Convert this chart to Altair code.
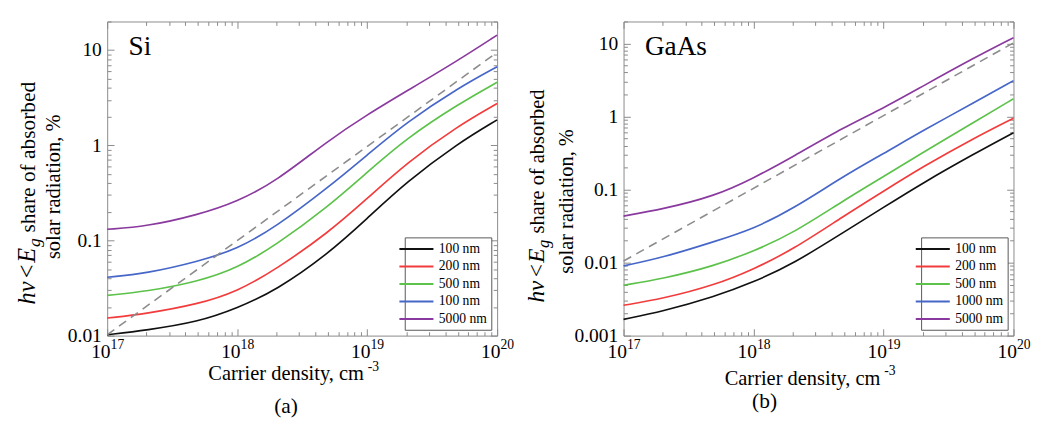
import altair as alt
import pandas as pd

FONT = "Liberation Serif"

# ---------------- data ----------------
carrier_density = [1e17, 2e17, 5e17, 1e18, 2e18, 5e18, 1e19, 2e19, 5e19, 1e20]

si_names = ["100 nm", "200 nm", "500 nm", "100 nm ", "5000 nm"]
si_100 = [0.0102, 0.0114, 0.0139, 0.0194, 0.030, 0.072, 0.17, 0.41, 1.05, 1.85]
si_200 = [0.0153, 0.017, 0.0214, 0.029, 0.050, 0.12, 0.275, 0.65, 1.6, 2.75]
si_500 = [0.0265, 0.029, 0.037, 0.051, 0.090, 0.226, 0.52, 1.18, 2.7, 4.6]
si_1000 = [0.041, 0.045, 0.06, 0.081, 0.14, 0.36, 0.79, 1.74, 4.0, 6.7]
si_5000 = [0.131, 0.14, 0.186, 0.255, 0.42, 1.12, 2.1, 3.7, 7.8, 14.4]
si_dash_x = [1e17, 1e20]
si_dash_y = [0.0102, 9.5]

gaas_names = ["100 nm", "200 nm", "500 nm", "1000 nm", "5000 nm"]
gaas_100 = [0.00167, 0.00215, 0.0034, 0.0054, 0.0095, 0.0264, 0.057, 0.123, 0.31, 0.6]
gaas_200 = [0.0026, 0.0032, 0.0049, 0.0081, 0.015, 0.044, 0.095, 0.205, 0.51, 0.95]
gaas_500 = [0.0049, 0.006, 0.009, 0.0143, 0.025, 0.072, 0.15, 0.32, 0.84, 1.75]
gaas_1000 = [0.009, 0.0117, 0.0194, 0.029, 0.054, 0.155, 0.31, 0.64, 1.56, 3.1]
gaas_5000 = [0.0433, 0.054, 0.081, 0.143, 0.28, 0.72, 1.3, 2.6, 6.4, 12.0]
gaas_dash_x = [1e17, 1e20]
gaas_dash_y = [0.0105, 10.2]

line_colors = ["#111111", "#f23c3c", "#5cc24a", "#4666c8", "#8a3a9e"]

x_major = [1e17, 1e18, 1e19, 1e20]
x_minor = [m * 10.0 ** e for e in (17, 18, 19) for m in range(2, 10)]
si_y_major = [0.01, 0.1, 1, 10]
gaas_y_major = [0.001, 0.01, 0.1, 1, 10]


def minors(decades):
    return [m * 10.0 ** e for e in decades for m in range(2, 10)]


si_y_minor = minors([-2, -1, 0]) + [20]
gaas_y_minor = minors([-3, -2, -1, 0]) + [20]


def long_df(names, series):
    rows = []
    for name, vals in zip(names, series):
        for n, v in zip(carrier_density, vals):
            rows.append({"n": n, "v": v, "series": name})
    return pd.DataFrame(rows)


si_df = long_df(si_names, [si_100, si_200, si_500, si_1000, si_5000])
gaas_df = long_df(gaas_names, [gaas_100, gaas_200, gaas_500, gaas_1000, gaas_5000])
si_dash = pd.DataFrame({"n": si_dash_x, "v": si_dash_y})
gaas_dash = pd.DataFrame({"n": gaas_dash_x, "v": gaas_dash_y})

EXP_EXPR = ("datum.value < 5e17 ? '17' : datum.value < 5e18 ? '18' : "
            "datum.value < 5e19 ? '19' : '20'")

W, H = 401, 323


def tick_axis(orient, values, size):
    return alt.Axis(orient=orient, values=values, labels=False, domain=False,
                    grid=False, title=None, ticks=True,
                    tickSize={"expr": str(-size)}, tickColor="#888888",
                    tickWidth=1)


def panel(df, names, dash_df, y_dom, y_major, y_minor, label, caption,
          cap_xy, title_pieces, xtitle_base):
    xs = alt.Scale(type="log", domain=[1e17, 1e20])
    ys = alt.Scale(type="log", domain=y_dom)

    def enc(xaxis, yaxis):
        return dict(x=alt.X("n:Q", scale=xs, axis=xaxis),
                    y=alt.Y("v:Q", scale=ys, axis=yaxis))

    lab_x = alt.Axis(orient="bottom", values=x_major, labelExpr="'10'",
                     labelAlign="right", tickOffset=3,
                     labelBaseline="alphabetic", labelPadding=23,
                     ticks=False, domain=False, grid=False, title=None,
                     labelFlush=False)
    exp_x = alt.Axis(orient="bottom", values=x_major, labelExpr=EXP_EXPR,
                     labelAlign="left", tickOffset=3,
                     labelBaseline="alphabetic", labelPadding=13,
                     labelFontSize=14, ticks=False, domain=False, grid=False,
                     title=None, labelFlush=False)
    lab_y = alt.Axis(orient="left", values=y_major, format="~g", ticks=False,
                     domain=False, grid=False, title=None, labelPadding=6)

    lines = alt.Chart(df).mark_line(interpolate="basis", strokeWidth=1.7).encode(
        color=alt.Color("series:N", sort=names,
                        scale=alt.Scale(domain=names, range=line_colors),
                        legend=alt.Legend(
                            orient="bottom-right", offset=6, title=None,
                            symbolType="M-2.5,0H2.5", symbolSize=196,
                            symbolStrokeWidth=2, labelFont=FONT,
                            labelFontSize=14, labelColor="black",
                            labelOffset=15, strokeColor="#555555",
                            fillColor="white", padding=4, rowPadding=3)),
        **enc(lab_x, lab_y))

    dash = alt.Chart(dash_df).mark_line(strokeDash=[9, 6], color="#8c8c8c",
                                        strokeWidth=1.6).encode(
        **enc(tick_axis("bottom", x_major, 7), tick_axis("left", y_major, 7)))
    d2 = alt.Chart(dash_df).mark_line(opacity=0).encode(
        **enc(tick_axis("bottom", x_minor, 4), tick_axis("left", y_minor, 4)))
    d3 = alt.Chart(dash_df).mark_line(opacity=0).encode(
        **enc(tick_axis("top", x_major, 7), tick_axis("right", y_major, 7)))
    d4 = alt.Chart(dash_df).mark_line(opacity=0).encode(
        **enc(tick_axis("top", x_minor, 4), tick_axis("right", y_minor, 4)))
    d5 = alt.Chart(dash_df).mark_line(opacity=0).encode(**enc(exp_x, None))

    one = pd.DataFrame({"k": [0]})

    def txt(text, x, y, size, style="normal", align="left",
            baseline="alphabetic", angle=0):
        props = dict(font=FONT, fontSize=size, fontStyle=style, align=align,
                     baseline=baseline, color="black")
        if angle:
            props["angle"] = angle
        return alt.Chart(one).mark_text(**props).encode(
            x=alt.value(x), y=alt.value(y), text=alt.value(text))

    texts = [
        txt(label, 22, 34, 28),
        txt(caption, cap_xy[0], cap_xy[1], 22, align="center",
            baseline="middle"),
        txt("Carrier density, cm", 104, xtitle_base, 21),
        txt("-3", 268, xtitle_base - 10, 14),
    ]
    for t, px, py, size, style, align in title_pieces:
        texts.append(txt(t, px, py, size, style=style, align=align, angle=270))

    return alt.layer(lines, dash, d2, d3, d4, d5, *texts).resolve_axis(
        x="independent", y="independent").properties(width=W, height=H)


si_title = [
    ("hν", -74, 291, 25, "italic", "left"),
    ("<", -74, 264, 25, "normal", "left"),
    ("E", -74, 248, 25, "italic", "left"),
    ("g", -69, 232, 18, "italic", "left"),
    ("share of absorbed", -74, 217, 22, "normal", "left"),
    ("solar radiation, %", -49, 170, 21, "normal", "center"),
]
gaas_title = [
    ("hν", -82, 289, 24, "italic", "left"),
    ("<", -82, 263, 24, "normal", "left"),
    ("E", -82, 248, 24, "italic", "left"),
    ("g", -77, 233, 17, "italic", "left"),
    ("share of absorbed", -82, 218, 21, "normal", "left"),
    ("solar radiation, %", -52, 185, 21, "normal", "center"),
]

left = panel(si_df, si_names, si_dash, [0.01, 20], si_y_major, si_y_minor,
             "Si", "(a)", (184, 396), si_title, 369)
right = panel(gaas_df, gaas_names, gaas_dash, [0.001, 20], gaas_y_major,
              gaas_y_minor, "GaAs", "(b)", (145, 390), gaas_title, 374)

chart = alt.hconcat(left, right, spacing=130, bounds="flush").resolve_scale(
    color="independent").properties(
    padding={"left": 7, "top": 7, "right": 0, "bottom": 0}
).configure_view(stroke="#888888", strokeWidth=1).configure_axis(
    labelFont=FONT, labelFontSize=20, labelColor="black", titleFont=FONT,
    titleFontSize=21, titleFontWeight="normal", titleColor="black", grid=False)

chart.save("out.html", embed_options={"renderer": "svg", "actions": False})
